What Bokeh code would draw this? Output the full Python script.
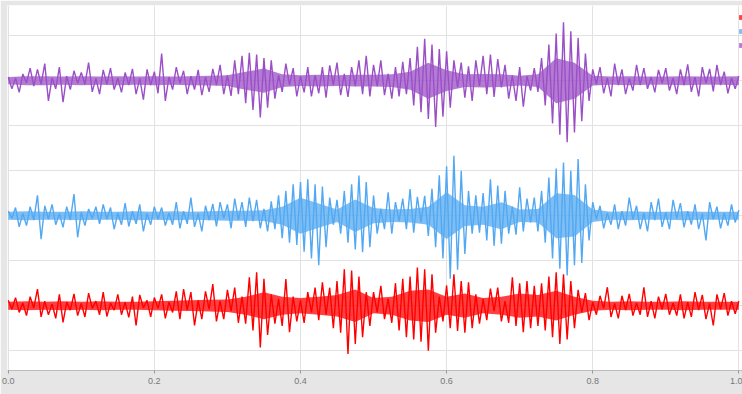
import numpy as np
from bokeh.plotting import figure
from bokeh.models import Range1d, Legend, LegendItem, PrintfTickFormatter
from bokeh.embed import file_html
from bokeh.resources import INLINE

# ---- data ----
x_ticks = [0.0, 0.2, 0.4, 0.6, 0.8, 1.0]
y_ticks = [0, 1, 2, 3, 4, 5, 6, 7]
series_names = [" ", " ", " "]
series_colors = ["#ff0000", "#52a8f2", "#9b4fc6"]
series_offsets = [1, 3, 6]

# peak-to-peak trace values (201 samples, x = 0 .. 1)
red_vals = [
    0.12, -0.08, 0.18, -0.15, 0.06, -0.22, 0.20, -0.05, 0.37, -0.25, 0.10, -0.20, 0.04, -0.28, 0.25, -0.37, 0.08, -0.10, 0.26, -0.22,
    0.05, -0.25, 0.28, -0.06, 0.10, -0.20, 0.30, -0.24, 0.06, -0.10, 0.25, -0.20, 0.08, -0.26, 0.20, -0.44, 0.24, -0.05, 0.12, -0.25,
    0.18, -0.06, 0.25, -0.28, 0.08, -0.15, 0.32, -0.30, 0.37, -0.10, 0.30, -0.44, 0.12, -0.30, 0.32, -0.08, 0.48, -0.35, 0.10, -0.30,
    0.35, -0.12, 0.40, -0.38, 0.20, -0.40, 0.63, -0.55, 0.74, -0.93, 0.60, -0.65, 0.25, -0.40, 0.15, -0.45, 0.59, -0.59, 0.20, -0.35,
    0.12, -0.38, 0.30, -0.15, 0.40, -0.32, 0.52, -0.20, 0.40, -0.50, 0.55, -0.60, 0.81, -1.07, 0.78, -0.85, 0.65, -0.70, 0.30, -0.45,
    0.30, -0.15, 0.44, -0.30, 0.15, -0.38, 0.50, -0.55, 0.60, -0.70, 0.65, -0.75, 0.85, -0.80, 0.81, -1.00, 0.70, -0.60, 0.20, -0.35,
    0.45, -0.50, 0.70, -0.56, 0.55, -0.60, 0.52, -0.50, 0.25, -0.40, 0.15, -0.32, 0.38, -0.12, 0.40, -0.35, 0.10, -0.38, 0.63, -0.45,
    0.50, -0.59, 0.55, -0.50, 0.44, -0.45, 0.50, -0.55, 0.65, -0.70, 0.74, -0.85, 0.70, -0.75, 0.55, -0.50, 0.35, -0.15, 0.28, -0.32,
    0.08, -0.20, 0.22, -0.06, 0.41, -0.25, 0.05, -0.28, 0.22, -0.10, 0.26, -0.22, 0.06, -0.20, 0.41, -0.25, 0.10, -0.28, 0.20, -0.08,
    0.26, -0.20, 0.06, -0.22, 0.25, -0.28, 0.08, -0.25, 0.30, -0.10, 0.24, -0.30, 0.05, -0.44, 0.25, -0.08, 0.28, -0.22, 0.10, -0.18, 0.10,
]

blue_vals = [
    0.10, -0.06, 0.18, -0.25, 0.05, -0.22, 0.20, -0.10, 0.45, -0.52, 0.22, -0.08, 0.25, -0.20, 0.05, -0.26, 0.20, -0.10, 0.48, -0.48,
    0.08, -0.22, 0.15, -0.06, 0.20, -0.18, 0.25, -0.08, 0.18, -0.30, 0.06, -0.20, 0.28, -0.24, 0.10, -0.18, 0.25, -0.35, 0.05, -0.20,
    0.20, -0.08, 0.18, -0.22, 0.06, -0.20, 0.30, -0.28, 0.10, -0.18, 0.40, -0.25, 0.05, -0.35, 0.22, -0.10, 0.26, -0.24, 0.30, -0.06,
    0.25, -0.28, 0.38, -0.10, 0.30, -0.25, 0.40, -0.12, 0.35, -0.28, 0.15, -0.35, 0.32, -0.30, 0.45, -0.50, 0.55, -0.60, 0.70, -0.65,
    0.75, -0.80, 0.81, -0.95, 0.70, -1.10, 0.65, -0.70, 0.40, -0.20, 0.35, -0.40, 0.55, -0.60, 0.70, -0.75, 0.89, -0.81, 0.75, -0.70,
    0.45, -0.40, 0.15, -0.30, 0.52, -0.40, 0.30, -0.12, 0.38, -0.30, 0.59, -0.38, 0.42, -0.15, 0.44, -0.45, 0.60, -0.70, 0.90, -0.95,
    1.10, -1.40, 1.33, -1.20, 1.00, -0.85, 0.55, -0.40, 0.45, -0.38, 0.50, -0.55, 0.81, -0.67, 0.67, -0.62, 0.55, -0.40, 0.20, -0.42,
    0.63, -0.35, 0.38, -0.15, 0.40, -0.35, 0.55, -0.60, 0.85, -0.95, 1.05, -1.18, 1.18, -1.33, 1.00, -1.10, 1.26, -1.05, 0.70, -0.55,
    0.30, -0.08, 0.22, -0.28, 0.06, -0.20, 0.25, -0.30, 0.10, -0.22, 0.40, -0.08, 0.22, -0.30, 0.06, -0.35, 0.30, -0.10, 0.38, -0.25,
    0.08, -0.30, 0.35, -0.06, 0.28, -0.26, 0.10, -0.20, 0.25, -0.30, 0.05, -0.55, 0.30, -0.08, 0.20, -0.28, 0.06, -0.22, 0.25, -0.15, 0.12,
]

purple_vals = [
    0.08, -0.18, 0.06, -0.26, 0.15, -0.05, 0.28, -0.12, 0.25, -0.08, 0.38, -0.45, 0.06, -0.18, 0.30, -0.48, 0.10, -0.20, 0.22, -0.06,
    0.18, -0.08, 0.40, -0.25, 0.05, -0.30, 0.24, -0.08, 0.28, -0.20, 0.06, -0.26, 0.18, -0.10, 0.26, -0.30, 0.05, -0.42, 0.25, -0.10,
    0.20, -0.28, 0.60, -0.45, 0.08, -0.20, 0.30, -0.06, 0.22, -0.30, 0.10, -0.20, 0.24, -0.32, 0.08, -0.25, 0.26, -0.10, 0.35, -0.30,
    0.12, -0.34, 0.45, -0.30, 0.55, -0.50, 0.62, -0.65, 0.58, -0.82, 0.50, -0.60, 0.45, -0.40, 0.12, -0.25, 0.38, -0.10, 0.28, -0.35,
    0.10, -0.26, 0.30, -0.35, 0.12, -0.28, 0.30, -0.38, 0.34, -0.10, 0.40, -0.32, 0.15, -0.36, 0.30, -0.12, 0.45, -0.30, 0.55, -0.35,
    0.35, -0.12, 0.45, -0.32, 0.15, -0.40, 0.30, -0.35, 0.42, -0.30, 0.50, -0.55, 0.75, -0.70, 0.93, -0.85, 0.80, -1.03, 0.70, -0.80,
    0.65, -0.60, 0.45, -0.15, 0.40, -0.38, 0.32, -0.45, 0.45, -0.12, 0.55, -0.30, 0.58, -0.36, 0.48, -0.15, 0.35, -0.40, 0.12, -0.45,
    0.30, -0.58, 0.10, -0.22, 0.28, -0.25, 0.50, -0.55, 0.80, -0.95, 1.05, -1.20, 1.30, -1.37, 1.10, -1.15, 0.95, -0.90, 0.60, -0.45,
    0.25, -0.08, 0.30, -0.28, 0.06, -0.35, 0.38, -0.10, 0.25, -0.30, 0.05, -0.22, 0.35, -0.10, 0.28, -0.18, 0.08, -0.26, 0.24, -0.06,
    0.28, -0.22, 0.06, -0.30, 0.25, -0.10, 0.36, -0.25, 0.08, -0.35, 0.30, -0.06, 0.26, -0.24, 0.35, -0.10, 0.20, -0.28, 0.06, -0.18, 0.10,
]

# half-width of the dense (solid-looking) core of each trace (41 samples, x = 0 .. 1)
red_core = [0.09, 0.10, 0.09, 0.10, 0.09, 0.10, 0.09, 0.09, 0.10,
            0.11, 0.12, 0.13, 0.14,
            0.20, 0.30, 0.20,
            0.17, 0.20, 0.24, 0.36, 0.17, 0.20, 0.33, 0.36, 0.20, 0.27, 0.17, 0.20, 0.27, 0.24, 0.33, 0.20, 0.11,
            0.09, 0.10, 0.09, 0.09, 0.10, 0.09, 0.09, 0.09]
blue_core = [0.09, 0.10, 0.09, 0.09, 0.10, 0.09, 0.09, 0.10, 0.09,
             0.10, 0.09, 0.10, 0.11,
             0.11, 0.12, 0.20,
             0.40, 0.27, 0.14, 0.36, 0.17, 0.14, 0.15, 0.20, 0.52, 0.23, 0.20, 0.30, 0.14, 0.15, 0.50, 0.46, 0.14,
             0.09, 0.10, 0.09, 0.09, 0.10, 0.09, 0.09, 0.09]
purple_core = [0.08, 0.10, 0.10, 0.09, 0.10, 0.09, 0.10, 0.09, 0.10,
               0.09, 0.10, 0.11, 0.12,
               0.20, 0.27, 0.14,
               0.12, 0.13, 0.12, 0.13, 0.13, 0.14, 0.20, 0.40, 0.23, 0.14, 0.15, 0.14, 0.11, 0.14, 0.50, 0.40, 0.11,
               0.09, 0.10, 0.09, 0.09, 0.10, 0.09, 0.09, 0.10]

all_vals = [red_vals, blue_vals, purple_vals]
all_core = [red_core, blue_core, purple_core]

# ---- figure ----
p = figure(width=742, height=394, output_backend="svg", toolbar_location=None,
           x_range=Range1d(-0.001, 1.005), y_range=Range1d(-0.44, 7.67),
           min_border_left=7, min_border_right=0, min_border_top=5, min_border_bottom=24)
p.background_fill_color = "white"
p.border_fill_color = "#e6e6e6"
p.outline_line_color = None

legend_items = []
for name, color, off, vals, core in zip(series_names, series_colors, series_offsets, all_vals, all_core):
    xc = np.linspace(0.0, 1.0, len(core))
    cc = np.array(core)
    band = p.varea(x=xc, y1=off - cc, y2=off + cc, fill_color=color, fill_alpha=0.75)
    xs = np.linspace(0.0, 1.0, len(vals))
    ys = np.array(vals) + off
    p.line(xs, ys, line_color=color, line_width=1.4)
    legend_items.append(LegendItem(label=name, renderers=[band]))

legend = Legend(items=legend_items, location=(731, 322),
                glyph_width=6, glyph_height=6, label_height=6,
                label_text_font_size="6px", label_standoff=0, label_width=0,
                spacing=8, padding=0, margin=0,
                border_line_color=None, background_fill_alpha=0)
p.add_layout(legend)

p.xaxis.ticker = x_ticks
p.xaxis.formatter = PrintfTickFormatter(format="%.1f")
p.xaxis.major_label_text_font_size = "9px"
p.xaxis.major_label_text_color = "#777777"
p.xaxis.axis_line_color = "#bbbbbb"
p.xaxis.major_tick_line_color = "#999999"
p.xaxis.major_tick_out = 3
p.xaxis.major_tick_in = 0
p.xaxis.minor_tick_line_color = None
p.xaxis.major_label_standoff = 4

p.yaxis.visible = False
p.ygrid.ticker = y_ticks
p.xgrid.ticker = x_ticks
p.grid.grid_line_color = "#e2e2e2"

open("out.html", "w").write(file_html(p, INLINE))
